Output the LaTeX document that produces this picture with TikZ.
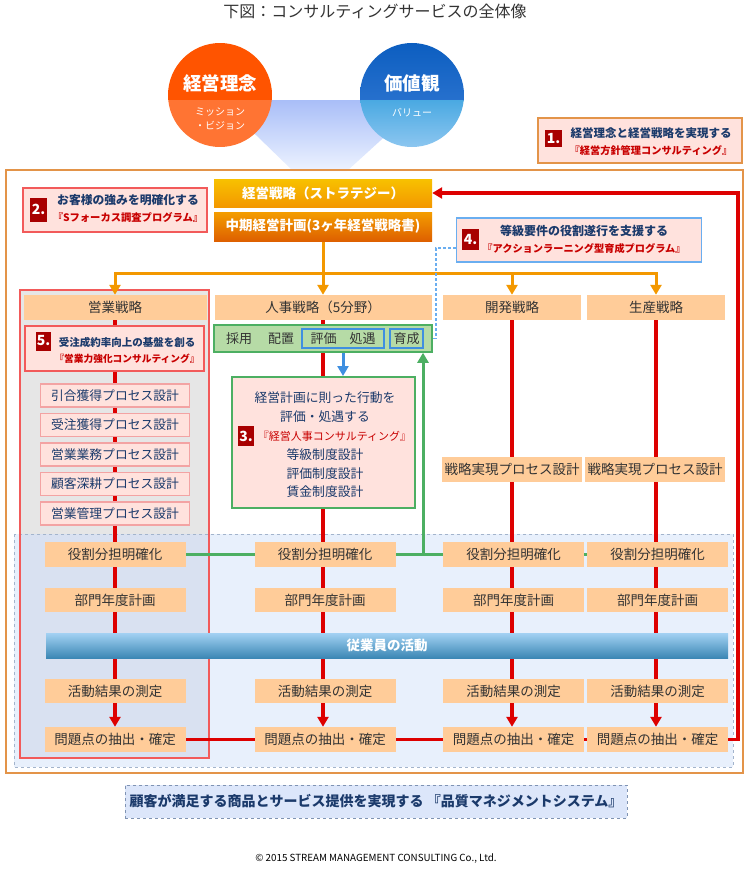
\documentclass[tikz,border=0pt]{standalone}
\usepackage{fontspec}
\setmainfont{Noto Sans CJK JP}
\usetikzlibrary{positioning,arrows.meta}

\pgfdeclarelayer{back}
\pgfdeclarelayer{lines}
\pgfsetlayers{back,lines,main}

\definecolor{frameorange}{HTML}{E39449}
\definecolor{pinkfill}{HTML}{FFE2DD}
\definecolor{boxred}{HTML}{F25A5A}
\definecolor{procpink}{HTML}{F3A3A3}
\definecolor{numred}{HTML}{A80000}
\definecolor{navy}{HTML}{1B3A6B}
\definecolor{textred}{HTML}{C80000}
\definecolor{peach}{HTML}{FFCC99}
\definecolor{txtgray}{HTML}{333333}
\definecolor{linered}{HTML}{DD0000}
\definecolor{lineorange}{HTML}{F39800}
\definecolor{linegreen}{HTML}{4CAF62}
\definecolor{greenfill}{HTML}{B6DBA6}
\definecolor{lineblue}{HTML}{3F8FE0}
\definecolor{dashblue}{HTML}{6AAEF0}
\definecolor{regionblue}{HTML}{E8F0FC}
\definecolor{regionedge}{HTML}{A3B4CC}
\definecolor{colgray}{HTML}{E6E6E6}
\definecolor{colblue}{HTML}{D9E1F1}
\definecolor{footfill}{HTML}{DCE6FA}
\definecolor{footedge}{HTML}{7F93B3}
\definecolor{oratop}{HTML}{FF5400}
\definecolor{orabot}{HTML}{FF7433}
\definecolor{bluetop}{HTML}{0C5EC0}
\definecolor{bluemid}{HTML}{3C7FD8}
\definecolor{bluelow}{HTML}{4AA9E2}
\definecolor{bluelight}{HTML}{8CC6F0}
\definecolor{funneltop}{HTML}{A9BEF8}
\definecolor{funnelbot}{HTML}{EDF3FF}

\newcommand\fsz[1]{\fontsize{#1}{#1}\selectfont}
\newcommand\fszl[2]{\fontsize{#1}{#2}\selectfont}

\begin{document}
\begin{tikzpicture}[
    x=1pt, y=-1pt,
    >={Triangle[width=11pt,length=10pt]},
    every node/.style={inner sep=0pt, align=center},
    peach/.style={fill=peach, text=txtgray, minimum width=141pt, minimum height=25pt, font=\fsz{13.5}},
    stratbox/.style={fill=peach, text=txtgray, minimum height=25pt, font=\fsz{13.5}},
    pinkbox/.style={draw=boxred, line width=1.5pt, fill=pinkfill},
    numsq/.style={fill=numred, text=white, font=\bfseries\fsz{14}, minimum width=17pt, minimum height=20pt},
    procbox/.style={draw=procpink, line width=1.5pt, fill=pinkfill, text=navy, font=\fsz{12.8}, minimum width=149pt, minimum height=23pt},
    redline/.style={draw=linered, line width=3.5pt},
    orangeline/.style={draw=lineorange, line width=3pt},
    greenline/.style={draw=linegreen, line width=3pt},
    blueline/.style={draw=lineblue, line width=3pt},
    dashline/.style={draw=dashblue, line width=1.5pt, dash pattern=on 3pt off 2pt, -{Straight Barb[length=4pt,width=9pt]}}
]
  \useasboundingbox (0,0) rectangle (750,883);

  % background regions
  \begin{pgfonlayer}{back}
    \shade[top color=funneltop, bottom color=funnelbot] (220,100) -- (425,100) -- (347,171) -- (293,171) -- cycle;
    \draw[frameorange, line width=2pt] (6,170) rectangle (743,773);
    \fill[regionblue] (14,534) rectangle (733,767);
    \fill[colgray] (20,290) rectangle (209,534);
    \fill[colblue] (20,534) rectangle (209,758);
    \draw[regionedge, dashed, line width=1pt] (14,534) rectangle (733,767);
    \draw[boxred, line width=1.5pt] (20,290) rectangle (209,758);
  \end{pgfonlayer}

  % title and circles
  \node[font=\fsz{16}, text=txtgray] (title) at (375,11) {下図：コンサルティングサービスの全体像};
  \node[circle, minimum size=104pt, path picture={
      \fill[oratop] (path picture bounding box.north west) rectangle ([yshift=-5pt]path picture bounding box.east);
      \fill[orabot] ([yshift=-5pt]path picture bounding box.west) rectangle (path picture bounding box.south east);
    }] (rinen) at (220,95) {};
  \node[circle, minimum size=104pt, path picture={
      \shade[top color=bluetop, bottom color=bluemid] (path picture bounding box.north west) rectangle ([yshift=-5pt]path picture bounding box.east);
      \shade[top color=bluelow, bottom color=bluelight] ([yshift=-5pt]path picture bounding box.west) rectangle (path picture bounding box.south east);
    }] (kachi) at (412,95) {};
  \node[font=\bfseries\fsz{18.5}, text=white] (rinent) at (220,83) {経営理念};
  \node[font=\fszl{10}{14}, text=white] (rinens) at (220,119) {ミッション\\・ビジョン};
  \node[font=\bfseries\fsz{18.5}, text=white] (kachit) at (412,83) {価値観};
  \node[font=\fsz{10}, text=white] (kachis) at (412,113) {バリュー};

  % consulting boxes
  \node[draw=frameorange, line width=2pt, fill=pinkfill, minimum width=204pt, minimum height=45pt] (box1) at (640,140.5) {};
  \node[numsq, minimum height=17pt] (num1) at (553.5,138.5) {1.};
  \node[font=\bfseries\fszl{11.5}{17}, text=navy] (box1t) at (651,141.5) {経営理念と経営戦略を実現する\\{\color{textred}\fsz{10.2}『経営方針管理コンサルティング』}};

  \node[pinkbox, minimum width=184pt, minimum height=44pt] (box2) at (115,210) {};
  \node[numsq, minimum height=24pt] (num2) at (38.5,209.5) {2.};
  \node[font=\bfseries\fszl{11.8}{17}, text=navy] (box2t) at (128,208.5) {お客様の強みを明確化する\\{\color{textred}\fsz{10.3}『Sフォーカス調査プログラム』}};

  \node[draw=dashblue, line width=1.5pt, fill=pinkfill, minimum width=245pt, minimum height=44pt] (box4) at (579,240) {};
  \node[numsq, minimum height=21pt] (num4) at (470.5,239.5) {4.};
  \node[font=\bfseries\fszl{12}{17}, text=navy] (box4t) at (584,239.5) {等級要件の役割遂行を支援する\\{\color{textred}\fsz{10.2}『アクションラーニング型育成プログラム』}};

  % strategy
  \node[top color=lineorange!60!yellow, bottom color=lineorange, minimum width=218pt, minimum height=28pt, text=white, font=\bfseries\fsz{13.5}] (keisen) at (323,193) {経営戦略（ストラテジー）};
  \node[top color=lineorange!95!yellow, bottom color=lineorange!70!red!90!black, minimum width=218pt, minimum height=29pt, text=white, font=\bfseries\fsz{13.5}] (chuki) at (323,226.5) {中期経営計画(3ヶ年経営戦略書)};
  \coordinate (oj) at (323,273);

  \node[stratbox, minimum width=183pt] (eigyo) at (115,307.5) {営業戦略};
  \node[stratbox, minimum width=217pt] (jinji) at (323,307.5) {人事戦略（5分野）};
  \node[stratbox, minimum width=138pt] (kaihatsu) at (512,307.5) {開発戦略};
  \node[stratbox, minimum width=138pt] (seisan) at (656,307.5) {生産戦略};

  % sales column
  \node[pinkbox, minimum width=179pt, minimum height=45pt] (box5) at (114.5,348.5) {};
  \node[numsq, minimum width=15pt, minimum height=19pt] (num5) at (43.5,341) {5.};
  \node[font=\bfseries\fszl{10.5}{16}, text=navy] (box5t) at (127,350) {受注成約率向上の基盤を創る\\{\color{textred}\fsz{9.7}『営業力強化コンサルティング』}};
  \node[procbox] (proc1) at (115,395.5) {引合獲得プロセス設計};
  \node[procbox, below=5pt of proc1] (proc2) {受注獲得プロセス設計};
  \node[procbox, below=5pt of proc2] (proc3) {営業業務プロセス設計};
  \node[procbox, below=5pt of proc3] (proc4) {顧客深耕プロセス設計};
  \node[procbox, below=5pt of proc4] (proc5) {営業管理プロセス設計};

  % HR column
  \node[draw=linegreen, line width=1.5pt, fill=greenfill, minimum width=218pt, minimum height=27pt] (jinjibar) at (323,338.5) {};
  \node[font=\fsz{13}, text=txtgray] (saiyo) at (239,338.5) {採用};
  \node[font=\fsz{13}, text=txtgray] (haichi) at (281,338.5) {配置};
  \node[draw=lineblue, line width=2pt, minimum width=82pt, minimum height=19pt, font=\fsz{13}, text=txtgray] (hyoka) at (343,338.5) {評価　処遇};
  \node[draw=lineblue, line width=2pt, minimum width=33pt, minimum height=19pt, font=\fsz{13}, text=txtgray] (ikusei) at (406.5,338.5) {育成};
  \node[draw=linegreen, line width=2pt, fill=pinkfill, minimum width=183pt, minimum height=131pt] (box3) at (323.5,442.5) {};
  \node[font=\fszl{12.8}{18.8}, text=navy] (box3t) at (325,445) {経営計画に則った行動を\\評価・処遇する\\\hspace{19pt}{\color{textred}\fsz{11}『経営人事コンサルティング』}\\等級制度設計\\評価制度設計\\賃金制度設計};
  \node[numsq, minimum width=16pt, minimum height=20pt] (num3) at (246,436) {3.};

  % development and production
  \node[peach, minimum width=140pt] (jitsu3) at (512,469.5) {戦略実現プロセス設計};
  \node[peach, minimum width=140pt] (jitsu4) at (655,469.5) {戦略実現プロセス設計};

  % common rows
  \node[peach] (yaku1) at (115,554.5) {役割分担明確化};
  \node[peach] (yaku2) at (325,554.5) {役割分担明確化};
  \node[peach] (yaku3) at (513.5,554.5) {役割分担明確化};
  \node[peach] (yaku4) at (657.5,554.5) {役割分担明確化};
  \node[peach, minimum height=24pt] (bumon1) at (115,600) {部門年度計画};
  \node[peach, minimum height=24pt] (bumon2) at (325,600) {部門年度計画};
  \node[peach, minimum height=24pt] (bumon3) at (513.5,600) {部門年度計画};
  \node[peach, minimum height=24pt] (bumon4) at (657.5,600) {部門年度計画};
  \node[top color=bluelight!80!white, bottom color=bluelow!80!black, minimum width=682pt, minimum height=25pt, text=white, font=\bfseries\fsz{13.5}] (katsudo) at (387,645.5) {従業員の活動};
  \node[peach, minimum height=24pt] (sokutei1) at (115,691) {活動結果の測定};
  \node[peach, minimum height=24pt] (sokutei2) at (325,691) {活動結果の測定};
  \node[peach, minimum height=24pt] (sokutei3) at (513.5,691) {活動結果の測定};
  \node[peach, minimum height=24pt] (sokutei4) at (657.5,691) {活動結果の測定};
  \node[peach] (mondai1) at (115,739.5) {問題点の抽出・確定};
  \node[peach] (mondai2) at (325,739.5) {問題点の抽出・確定};
  \node[peach] (mondai3) at (513.5,739.5) {問題点の抽出・確定};
  \node[peach] (mondai4) at (657.5,739.5) {問題点の抽出・確定};
  \coordinate (gj) at (423,554.5);

  % footer
  \node[draw=footedge, dashed, line width=1pt, fill=footfill, minimum width=502pt, minimum height=33pt, text=navy, font=\bfseries\fsz{14}] (qms) at (376,801.5) {顧客が満足する商品とサービス提供を実現する 『品質マネジメントシステム』};
  \node[font=\fsz{9.8}, text=black] (copy) at (376,859) {© 2015 STREAM MANAGEMENT CONSULTING Co., Ltd.};

  % connectors
  \begin{pgfonlayer}{lines}
    \draw[orangeline] (chuki.south) -- (oj);
    \draw[orangeline,->] (oj) -| (eigyo.north);
    \draw[orangeline,->] (oj) -- (jinji.north);
    \draw[orangeline,->] (oj) -| (kaihatsu.north);
    \draw[orangeline,->] (oj) -| (seisan.north);

    \draw[redline,->] (eigyo.south) -- (eigyo.south |- mondai1.north);
    \draw[redline,->] (jinji.south) -- (jinji.south |- mondai2.north);
    \draw[redline,->] (kaihatsu.south) -- (kaihatsu.south |- mondai3.north);
    \draw[redline,->] (seisan.south) -- (seisan.south |- mondai4.north);
    \draw[redline] (mondai1) -- (mondai4);
    \draw[redline,->] (mondai4.east) -- ++(10,0) |- (keisen.east);

    \draw[greenline] (yaku1) -- (yaku4);
    \draw[greenline,->] (gj) -- (gj |- jinjibar.south);
    \draw[blueline,->] (hyoka.south) -- (hyoka.south |- box3.north);
    \draw[dashline] ([yshift=-8pt]box4.west) -- ++(-20,0) |- (ikusei.east);
  \end{pgfonlayer}
\end{tikzpicture}
\end{document}
